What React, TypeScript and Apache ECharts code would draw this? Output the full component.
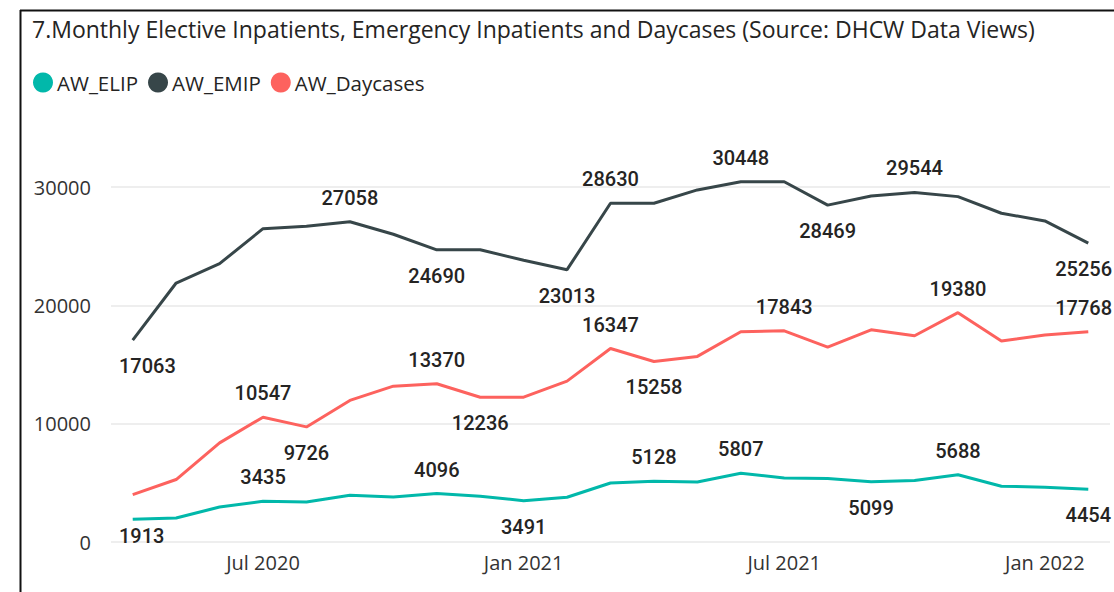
import React, { useEffect, useRef } from "react";
import * as echarts from "echarts";

const months = [
  "Apr 2020", "May 2020", "Jun 2020", "Jul 2020", "Aug 2020", "Sep 2020", "Oct 2020", "Nov 2020", "Dec 2020",
  "Jan 2021", "Feb 2021", "Mar 2021", "Apr 2021", "May 2021", "Jun 2021", "Jul 2021", "Aug 2021", "Sep 2021",
  "Oct 2021", "Nov 2021", "Dec 2021", "Jan 2022", "Feb 2022",
];

const elip = [1913, 2030, 2960, 3435, 3384, 3950, 3807, 4096, 3866, 3491, 3782, 4990, 5128, 5076, 5807, 5414, 5364, 5099, 5194, 5688, 4712, 4628, 4454];
const emip = [17063, 21886, 23519, 26480, 26683, 27058, 26006, 24690, 24703, 23806, 23013, 28630, 28630, 29754, 30448, 30448, 28469, 29246, 29544, 29187, 27782, 27131, 25256];
const daycases = [4010, 5279, 8375, 10547, 9726, 11962, 13172, 13370, 12236, 12236, 13595, 16347, 15258, 15685, 17766, 17843, 16472, 17935, 17427, 19380, 16979, 17487, 17768];

// which points carry a data label, and whether it sits above (t) or below (b)
const elipLabels: Record<number, string> = { 0: "b", 3: "t", 7: "t", 9: "b", 12: "t", 14: "t", 17: "b", 19: "t", 22: "b" };
const emipLabels: Record<number, string> = { 0: "b", 5: "t", 7: "b", 10: "b", 11: "t", 14: "t", 16: "b", 18: "t", 22: "b" };
const dayLabels: Record<number, string> = { 3: "t", 4: "b", 7: "t", 8: "b", 11: "t", 12: "b", 15: "t", 19: "t", 22: "t" };

const seriesNames = ["AW_ELIP", "AW_EMIP", "AW_Daycases"];
const seriesColors = ["#01B8AA", "#374649", "#FD625E"];
const yTicks = [0, 10000, 20000, 30000];

const labelStyle = {
  fontFamily: "Roboto",
  fontWeight: 500,
  fontSize: 20,
  color: "#252423",
};

// labels are kept inside the plot edges, like the original
const LABEL_LEFT = 119;
const LABEL_RIGHT = 1112;
const LABEL_MAX_CENTER_Y = 536;

function buildData(values: number[], labels: Record<number, string>) {
  return values.map((v, i) => {
    const p = labels[i];
    if (!p) return { value: v, label: { show: false } };
    return {
      value: v,
      label: {
        show: true,
        position: p === "t" ? "top" : "bottom",
        distance: p === "t" ? 14 : 16,
        ...labelStyle,
      },
    };
  });
}

function keepInside(params: any) {
  const r = params.labelRect;
  if (!r) return {};
  let dx = 0;
  let dy = 0;
  if (r.x < LABEL_LEFT) dx = LABEL_LEFT - r.x;
  if (r.x + r.width > LABEL_RIGHT) dx = LABEL_RIGHT - (r.x + r.width);
  const cy = r.y + r.height / 2;
  if (cy > LABEL_MAX_CENTER_Y) dy = LABEL_MAX_CENTER_Y - cy;
  return { dx, dy, hideOverlap: false };
}

export default function App() {
  const ref = useRef<HTMLDivElement>(null);
  useEffect(() => {
    if (!ref.current) return;
    const chart = echarts.init(ref.current, undefined, { renderer: "svg" });
    const allValues = [elip, emip, daycases];
    const allLabels = [elipLabels, emipLabels, dayLabels];
    chart.setOption({
      animation: false,
      backgroundColor: "#ffffff",
      title: {
        text: "7.Monthly Elective Inpatients, Emergency Inpatients and Daycases (Source: DHCW Data Views)",
        left: 27,
        top: 12,
        textStyle: {
          fontFamily: "Open Sans",
          fontWeight: "normal",
          fontSize: 23,
          color: "#252423",
        },
      },
      legend: {
        left: 28,
        top: 67,
        icon: "circle",
        itemWidth: 20,
        itemHeight: 20,
        itemGap: 10,
        data: seriesNames,
        textStyle: {
          fontFamily: "Open Sans",
          fontSize: 20.5,
          color: "#252423",
          padding: [0, 0, 0, -1],
        },
      },
      grid: {
        left: 111,
        right: 4,
        top: 187,
        bottom: 50,
        containLabel: false,
      },
      xAxis: {
        type: "category",
        data: months,
        boundaryGap: true,
        axisLine: { show: false },
        axisTick: { show: false },
        axisLabel: {
          interval: (idx: number) => idx % 6 === 3,
          formatter: (v: string) => v,
          margin: 10,
          fontFamily: "Open Sans",
          fontSize: 20,
          color: "#333333",
        },
      },
      yAxis: {
        type: "value",
        min: 0,
        max: 30000,
        interval: 10000,
        axisLine: { show: false },
        axisTick: { show: false },
        axisLabel: {
          margin: 20,
          fontFamily: "Open Sans",
          fontSize: 20,
          color: "#333333",
          formatter: (v: number) => (yTicks.includes(v) ? String(v) : ""),
        },
        splitLine: { lineStyle: { color: "#E9E9E9", width: 1.5 } },
      },
      series: seriesNames.map((name, i) => ({
        name,
        type: "line",
        data: buildData(allValues[i], allLabels[i]),
        showSymbol: true,
        symbol: "circle",
        symbolSize: 0,
        clip: false,
        lineStyle: { width: 3, color: seriesColors[i] },
        itemStyle: { color: seriesColors[i] },
        emphasis: { disabled: true },
        labelLayout: keepInside,
        z: 3 - i,
      })),
      graphic: [
        { type: "line", shape: { x1: 20, y1: 10.5, x2: 1114, y2: 10.5 }, style: { stroke: "#111", lineWidth: 2 } },
        { type: "line", shape: { x1: 20.5, y1: 10, x2: 20.5, y2: 592 }, style: { stroke: "#111", lineWidth: 2 } },
      ],
    });
    return () => chart.dispose();
  }, []);
  return (
    <div
      ref={ref}
      style={{ position: "fixed", left: 0, top: 0, width: 1114, height: 592 }}
    />
  );
}
